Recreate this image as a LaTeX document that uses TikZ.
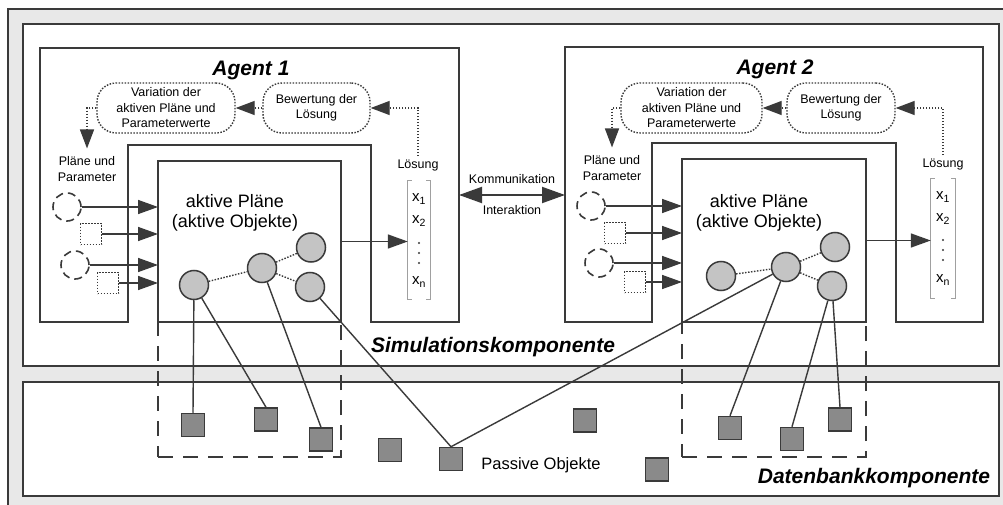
\documentclass[tikz,border=0pt]{standalone}
\usepackage{fontspec}
\setmainfont{Liberation Sans}
\usetikzlibrary{arrows.meta}
\definecolor{ln}{HTML}{3A3A3A}
\definecolor{bg}{HTML}{E8E8E8}
\definecolor{cgray}{HTML}{C4C4C4}
\definecolor{sgray}{HTML}{8A8A8A}
\definecolor{brk}{HTML}{A0A0A0}
\tikzset{
  frame/.style={draw=ln, line width=2pt, fill=white, inner sep=0pt, outer sep=0pt},
  actbox/.style={draw=ln, line width=2pt, fill=white, inner sep=0pt, outer sep=0pt},
  dashbox/.style={draw=ln, line width=1.5pt, dash pattern=on 15pt off 10pt, inner sep=0pt},
  rbox/.style={draw=ln, line width=1.4pt, dash pattern=on 1.5pt off 1.5pt, rounded corners=19pt, minimum height=50pt, inner sep=0pt, align=center, font=\fontsize{12.5}{15.5}\selectfont},
  small/.style={font=\fontsize{12.5}{15.5}\selectfont, align=center, inner sep=0pt},
  title/.style={font=\fontsize{21}{24}\selectfont\bfseries\itshape, inner sep=0pt},
  actc/.style={circle, draw=ln, fill=cgray, line width=1.5pt, minimum size=29pt, inner sep=0pt},
  pobj/.style={draw=ln, fill=sgray, line width=1.5pt, minimum size=23pt, inner sep=0pt},
  dcirc/.style={circle, draw=ln, line width=1.6pt, dash pattern=on 8pt off 5pt, minimum size=28pt, inner sep=0pt},
  dsq/.style={draw=ln, line width=1.6pt, dash pattern=on 1.6pt off 1.4pt, minimum size=21pt, inner sep=0pt},
  arr/.style={draw=ln, line width=1.5pt, -{Triangle[length=20pt,width=14pt]}},
  dotarr/.style={draw=ln, line width=1.4pt, dash pattern=on 1.5pt off 1.5pt, -{Triangle[length=19pt,width=14pt]}},
  dotln/.style={draw=ln, line width=1.4pt, dash pattern=on 1.5pt off 1.5pt},
  link/.style={draw=ln, line width=1.4pt},
  mtx/.style={font=\fontsize{15}{17}\selectfont, inner sep=0pt},
  mdot/.style={circle, fill=ln, inner sep=0pt, minimum size=2.2pt},
  bracket/.style={draw=brk, line width=1pt}
}
\begin{document}
\begin{tikzpicture}[x=1pt,y=-1pt]
\useasboundingbox (0,0) rectangle (1003,505);
\fill[bg] (8,9) rectangle (1003,505);
\draw[ln, line width=2pt] (8,505) -- (8,9) -- (1003,9);

% components
\node[frame, minimum width=976pt, minimum height=342pt] (sim) at (511,195) {};
\node[frame, minimum width=976pt, minimum height=114pt] (db) at (511,439) {};

% agent outlines
\draw[ln, line width=2pt, fill=white] (40,48) -- (459,48) -- (459,322) -- (371,322) -- (371,145) -- (128,145) -- (128,322) -- (40,322) -- cycle;
\draw[ln, line width=2pt, fill=white] (565,47) -- (983,47) -- (983,322) -- (896,322) -- (896,143) -- (652,143) -- (652,322) -- (565,322) -- cycle;
\coordinate (a1e) at (459,195);
\coordinate (a2w) at (565,195);

% active boxes
\node[actbox, minimum width=183pt, minimum height=161pt] (act1) at (249.5,241.5) {};
\node[actbox, minimum width=184pt, minimum height=163pt] (act2) at (774,240.5) {};

% dashed areas
\node[dashbox, minimum width=183pt, minimum height=135pt] (dz1) at (249.5,389.5) {};
\node[dashbox, minimum width=184pt, minimum height=135pt] (dz2) at (774,389.5) {};

% titles
\node[title] (t1) at (251,70) {Agent 1};
\node[title] (t2) at (775,69) {Agent 2};
\node[title] (tsim) at (493,347) {Simulationskomponente};
\node[title] (tdb) at (874,478) {Datenbankkomponente};

% loop boxes
\node[rbox, minimum width=138pt] (var1) at (166,108) {Variation der\\aktiven Pläne und\\Parameterwerte};
\node[rbox, minimum width=107pt] (bew1) at (316.5,108) {Bewertung der\\Lösung};
\node[rbox, minimum width=141pt] (var2) at (691.5,108) {Variation der\\aktiven Pläne und\\Parameterwerte};
\node[rbox, minimum width=108pt] (bew2) at (841,108) {Bewertung der\\Lösung};

\node[small] (pp1) at (87,169) {Pläne und\\Parameter};
\node[small] (pp2) at (612,168) {Pläne und\\Parameter};
\node[small, inner sep=3pt] (ls1) at (418,165) {Lösung};
\node[small, inner sep=3pt] (ls2) at (943,164) {Lösung};

\draw[dotarr] (bew1.west) -- (var1.east);
\draw[dotarr] (bew2.west) -- (var2.east);
\draw[dotarr] (ls1.north) |- (bew1.east);
\draw[dotarr] (ls2.north) |- (bew2.east);
\draw[dotarr, shorten >=8pt] (var1.west) -| (pp1.north);
\draw[dotarr, shorten >=8pt] (var2.west) -| (pp2.north);

% active text
\node[font=\fontsize{18}{20}\selectfont, align=center, inner sep=0pt] (at1) at (235,213) {aktive Pläne\\(aktive Objekte)};
\node[font=\fontsize{18}{20}\selectfont, align=center, inner sep=0pt] (at2) at (759,213) {aktive Pläne\\(aktive Objekte)};

% input objects agent 1
\node[dcirc] (i11) at (67,207) {};
\node[dsq] (i12) at (91,234) {};
\node[dcirc] (i13) at (75,265) {};
\node[dsq] (i14) at (108,283) {};
\foreach \n in {i11,i12,i13,i14} \draw[arr] (\n.east) -- (\n.east -| act1.west);
% input objects agent 2
\node[dcirc] (i21) at (591,206) {};
\node[dsq] (i22) at (615,233) {};
\node[dcirc] (i23) at (599,263) {};
\node[dsq] (i24) at (635,282) {};
\foreach \n in {i21,i22,i23,i24} \draw[arr] (\n.east) -- (\n.east -| act2.west);

% matrices
\node[minimum width=22pt, minimum height=118pt, inner sep=0pt] (m1) at (419,240) {};
\draw[bracket] ([xshift=4pt]m1.north west) -- (m1.north west) -- (m1.south west) -- ([xshift=4pt]m1.south west);
\draw[bracket] ([xshift=-4pt]m1.north east) -- (m1.north east) -- (m1.south east) -- ([xshift=-4pt]m1.south east);
\node[mtx] (m1a) at (419,199) {x\textsubscript{1}};
\node[mtx] (m1b) at (419,221) {x\textsubscript{2}};
\node[mdot] (m1c) at (419,243) {};
\node[mdot] (m1d) at (419,253) {};
\node[mdot] (m1e) at (419,263) {};
\node[mtx] (m1f) at (419,282) {x\textsubscript{n}};

\node[minimum width=24pt, minimum height=119pt, inner sep=0pt] (m2) at (943,238.5) {};
\draw[bracket] ([xshift=4pt]m2.north west) -- (m2.north west) -- (m2.south west) -- ([xshift=4pt]m2.south west);
\draw[bracket] ([xshift=-4pt]m2.north east) -- (m2.north east) -- (m2.south east) -- ([xshift=-4pt]m2.south east);
\node[mtx] (m2a) at (943,197) {x\textsubscript{1}};
\node[mtx] (m2b) at (943,219) {x\textsubscript{2}};
\node[mdot] (m2c) at (943,240) {};
\node[mdot] (m2d) at (943,250) {};
\node[mdot] (m2e) at (943,260) {};
\node[mtx] (m2f) at (943,280) {x\textsubscript{n}};

\draw[arr] (act1.east) -- (act1.east -| m1.west);
\draw[arr] (act2.east) -- (act2.east -| m2.west);

% communication
\draw[draw=ln, line width=2pt, {Triangle[length=23pt,width=16pt]}-{Triangle[length=23pt,width=16pt]}] (a1e) -- (a2w);
\node[small] (kom) at (512,179) {Kommunikation};
\node[small] (int) at (512,210) {Interaktion};

% passive objects
\node[pobj] (s1) at (193,425) {};
\node[pobj] (s2) at (266,419.5) {};
\node[pobj] (s3) at (321,439.5) {};
\node[pobj] (s4) at (390,450) {};
\node[pobj] (s5) at (451,459) {};
\node[pobj] (s6) at (585,420.5) {};
\node[pobj] (s7) at (657,469.5) {};
\node[pobj] (s8) at (730,428) {};
\node[pobj] (s9) at (792,439) {};
\node[pobj] (s10) at (840,419.5) {};
\node[font=\fontsize{16.5}{18}\selectfont, inner sep=0pt] (pass) at (541,465) {Passive Objekte};

% active objects agent 1
\node[actc] (c11) at (194,285) {};
\node[actc] (c12) at (262,268) {};
\node[actc] (c13) at (310,287) {};
\node[actc] (c14) at (311,247.5) {};
% active objects agent 2
\node[actc] (c21) at (721,276) {};
\node[actc] (c22) at (786,267) {};
\node[actc] (c23) at (832,286) {};
\node[actc] (c24) at (835,247) {};

\draw[dotln] (c11) -- (c12);
\draw[dotln] (c12) -- (c14);
\draw[dotln] (c12) -- (c13);
\draw[dotln] (c21) -- (c22);
\draw[dotln] (c22) -- (c24);
\draw[dotln] (c22) -- (c23);

\draw[link] (c11) -- (s1.north);
\draw[link] (c11) -- (s2.north);
\draw[link] (c12) -- (s3.north);
\draw[link] (c13) -- (s5.north);
\draw[link] (c22) -- (s5.north);
\draw[link] (c22) -- (s8.north);
\draw[link] (c23) -- (s9.north);
\draw[link] (c23) -- (s10.north);
\end{tikzpicture}
\end{document}
